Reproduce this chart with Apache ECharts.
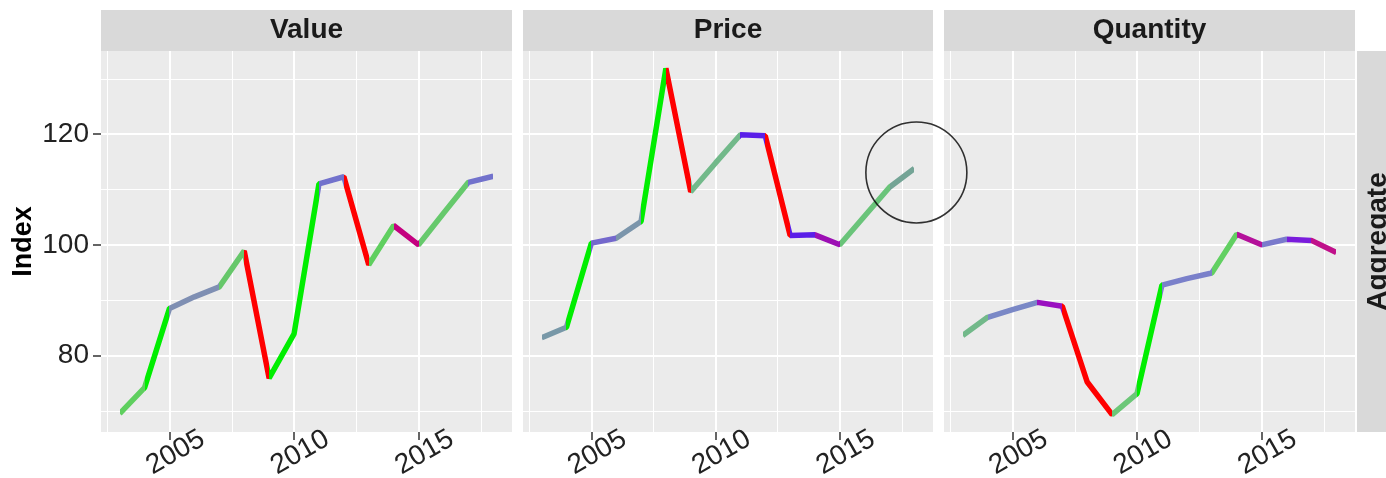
<!DOCTYPE html>
<html>
<head>
<meta charset="utf-8">
<script src="https://cdn.jsdelivr.net/npm/echarts@6/dist/echarts.min.js"></script>
<style>
  html, body { margin: 0; padding: 0; background: #fff; }
  #chart { width: 1386px; height: 478px; }
</style>
</head>
<body>
<div id="chart"></div>
<script>
// Annual indices, one value per year
const years = [2003, 2004, 2005, 2006, 2007, 2008, 2009, 2010, 2011, 2012, 2013, 2014, 2015, 2016, 2017, 2018];
const valueIndex    = [69.5, 74.2, 88.5, 90.6, 92.4, 98.9, 75.9, 83.9, 111.0, 112.3, 96.4, 103.5, 100.0, 105.7, 111.3, 112.4];
const priceIndex    = [83.2, 85.1, 100.3, 101.2, 104.2, 131.9, 109.6, 114.8, 119.9, 119.7, 101.7, 101.8, 100.0, 105.2, 110.4, 113.8];
const quantityIndex = [83.6, 86.9, 88.3, 89.6, 88.9, 75.2, 69.3, 73.1, 92.7, 93.9, 94.9, 101.9, 100.0, 101.0, 100.8, 98.6];

const panelNames = ['Value', 'Price', 'Quantity'];
const rowName = 'Aggregate';
const xTicks = [2005, 2010, 2015];
const xMinor = [2002.5, 2007.5, 2012.5, 2017.5];
const yTicks = [80, 100, 120];
const yMinor = [70, 90, 110, 130];

// Colour of each year-to-year segment (growth colouring)
const RED = '#ff0000', GREEN = '#00ee00';
const valueColors = ['#5fcf5f', GREEN, '#7f8fb3', '#7f8fb3', '#66c76a', RED, GREEN, GREEN,
                     '#7272cc', RED, '#5fcf5f', '#c4007f', '#66c96c', '#66c96c', '#7272cc'];
const priceColors = ['#7898a8', GREEN, '#7468cc', '#7b95ab', GREEN, RED, '#72b98a', '#72b98a',
                     '#5a1ee8', RED, '#5a1ee8', '#9c0fb4', '#6ac47a', '#6ac47a', '#74a496'];
const quantityColors = ['#72b98a', '#7a88c6', '#7a88c6', '#9a10c0', RED, RED, '#6cc778', GREEN,
                        '#7a80ca', '#7a80ca', '#62d062', '#b4109a', '#7a7acc', '#7a1cdc', '#c0108a'];

const seriesValues = [valueIndex, priceIndex, quantityIndex];
const seriesColors = [valueColors, priceColors, quantityColors];

// Facet layout (pixels)
const FONT = '"Liberation Sans", Arial, Helvetica, sans-serif';
const panels = [
  { left: 101, width: 411 },
  { left: 523, width: 410 },
  { left: 944, width: 411 }
];
const PANEL_TOP = 51, PANEL_H = 381, STRIP_H = 41;

// ggplot-style 5% expansion of the data range
function expand(lo, hi) { const d = (hi - lo) * 0.05; return [lo - d, hi + d]; }
const allVals = [].concat(valueIndex, priceIndex, quantityIndex);
const [yMin, yMax] = expand(Math.min(...allVals), Math.max(...allVals));
const [xMin, xMax] = expand(years[0], years[years.length - 1]);

const grids = [], xAxes = [], yAxes = [], series = [], visualMaps = [], graphics = [];

panels.forEach((p, i) => {
  grids.push({
    left: p.left, top: PANEL_TOP, width: p.width, height: PANEL_H,
    outerBoundsMode: 'none', containLabel: false,
    show: true, backgroundColor: '#ebebeb', borderWidth: 0
  });
  xAxes.push({
    type: 'value', gridIndex: i, min: xMin, max: xMax,
    axisLine: { show: false },
    axisTick: { show: true, length: 8, customValues: xTicks, lineStyle: { color: '#333', width: 1.5 } },
    axisLabel: {
      customValues: xTicks, rotate: 30, align: 'center', verticalAlign: 'middle',
      margin: 24, padding: [0, 0, 0, 14],
      formatter: v => String(v),
      fontSize: 28, color: '#222', fontFamily: FONT
    },
    splitLine: { show: false }
  });
  yAxes.push({
    type: 'value', gridIndex: i, min: yMin, max: yMax,
    axisLine: { show: false },
    axisTick: { show: i === 0, length: 8, customValues: yTicks, lineStyle: { color: '#333', width: 1.5 } },
    axisLabel: { show: i === 0, customValues: yTicks, margin: 12, fontSize: 28, color: '#222', fontFamily: FONT,
                 formatter: v => String(v) },
    splitLine: { show: false },
    name: i === 0 ? 'Index' : '',
    nameLocation: 'middle', nameGap: 64,
    nameTextStyle: { fontSize: 27, fontWeight: 'bold', color: '#000', fontFamily: FONT }
  });

  // panel grid lines
  const gridLines = [];
  xMinor.forEach(v => gridLines.push({ xAxis: v, lineStyle: { width: 1 } }));
  yMinor.forEach(v => gridLines.push({ yAxis: v, lineStyle: { width: 1 } }));
  xTicks.forEach(v => gridLines.push({ xAxis: v, lineStyle: { width: 2 } }));
  yTicks.forEach(v => gridLines.push({ yAxis: v, lineStyle: { width: 2 } }));

  const seriesIndex = series.length;
  series.push({
    type: 'line', name: panelNames[i], xAxisIndex: i, yAxisIndex: i,
    data: years.map((y, k) => [y, seriesValues[i][k]]),
    showSymbol: false, symbol: 'none', z: 3,
    lineStyle: { width: 5.5, cap: 'butt', join: 'bevel' },
    markLine: {
      silent: true, symbol: 'none', z: 1, animation: false,
      label: { show: false },
      lineStyle: { color: '#ffffff', type: 'solid', opacity: 1 },
      emphasis: { disabled: true },
      data: gridLines
    }
  });
  visualMaps.push({
    type: 'piecewise', show: false, dimension: 0, seriesIndex: seriesIndex,
    pieces: seriesColors[i].map((c, k) => (
      k === seriesColors[i].length - 1
        ? { gte: years[k], lte: years[k + 1], color: c }
        : { gte: years[k], lt: years[k + 1], color: c }
    ))
  });

  // facet strip with title
  graphics.push({
    type: 'rect', left: p.left, top: PANEL_TOP - STRIP_H, silent: true,
    shape: { width: p.width, height: STRIP_H },
    style: { fill: '#d9d9d9' }
  });
  graphics.push({
    type: 'text', x: p.left + p.width / 2, y: PANEL_TOP - STRIP_H / 2, silent: true,
    style: {
      text: panelNames[i], fill: '#1a1a1a', font: 'bold 28px ' + FONT,
      align: 'center', verticalAlign: 'middle'
    }
  });
});

// row strip on the right
const last = panels[panels.length - 1];
const rowX = last.left + last.width + 2;
graphics.push({
  type: 'rect', x: rowX, y: PANEL_TOP, silent: true,
  shape: { width: STRIP_H + 4, height: PANEL_H },
  style: { fill: '#d9d9d9' }
});
graphics.push({
  type: 'text', x: rowX + STRIP_H / 2 + 1, y: PANEL_TOP + PANEL_H / 2, rotation: Math.PI / 2, silent: true,
  style: {
    text: rowName, fill: '#1a1a1a', font: 'bold 28px ' + FONT,
    align: 'center', verticalAlign: 'middle'
  }
});

// highlight ring around the latest price observation
series.push({
  type: 'scatter', xAxisIndex: 1, yAxisIndex: 1, z: 10, clip: false, silent: true,
  data: [[years[years.length - 1], priceIndex[priceIndex.length - 1]]],
  symbol: 'circle', symbolSize: 101, symbolOffset: [2, 4],
  itemStyle: { color: 'rgba(0,0,0,0)', borderColor: '#000', borderWidth: 1.6 }
});

const chart = echarts.init(document.getElementById('chart'), null, { renderer: 'canvas' });
chart.setOption({
  animation: false,
  backgroundColor: '#ffffff',
  textStyle: { fontFamily: FONT },
  grid: grids,
  xAxis: xAxes,
  yAxis: yAxes,
  visualMap: visualMaps,
  series: series,
  graphic: graphics
});
</script>
</body>
</html>
